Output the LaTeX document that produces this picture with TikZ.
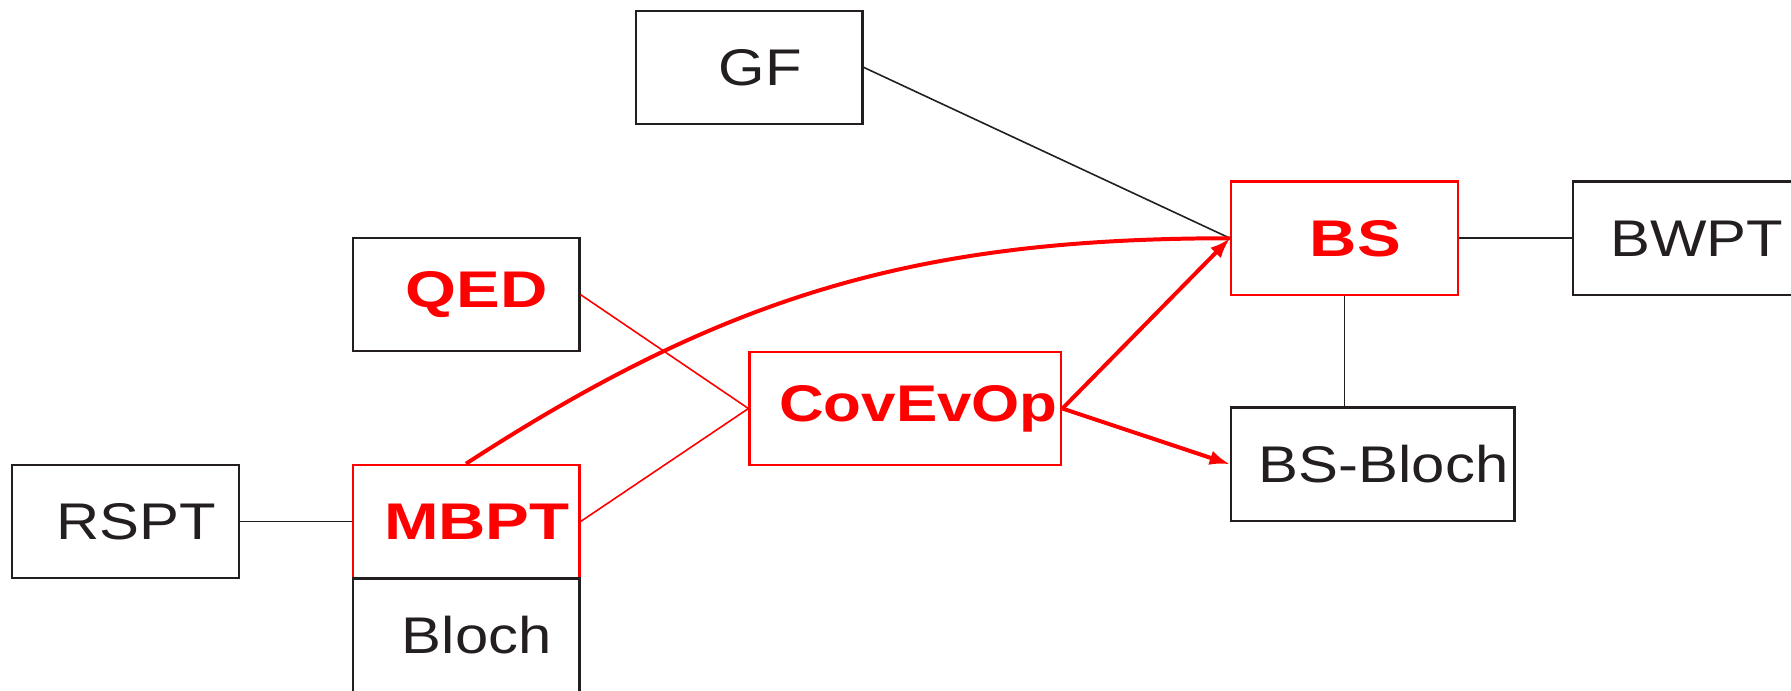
\documentclass[tikz,border=0pt]{standalone}
\usepackage{fontspec}
\newfontfamily\plainlab{Liberation Sans}[FakeStretch=1.16]
\newfontfamily\hotlab{Liberation Sans}[FakeStretch=1.27]
\newfontfamily\widelab{Liberation Sans}[FakeStretch=1.20]
\usetikzlibrary{arrows.meta}
\definecolor{ink}{HTML}{231F20}
\newcommand{\lab}[1]{\hspace*{0.38cm}#1}
\begin{document}
\begin{tikzpicture}[x=1cm,y=1cm,
  box/.style={draw=ink, line width=1.2pt, minimum width=4cm, minimum height=2cm,
    inner sep=0pt, text=ink, font=\fontsize{25.9}{30}\plainlab},
  hotbox/.style={box, draw=red},
  hottext/.style={text=red, font=\fontsize{25.9}{30}\hotlab\bfseries},
  linkink/.style={draw=ink, line width=0.8pt},
  linkred/.style={draw=red, line width=0.8pt},
  flow/.style={draw=red, line width=2pt},
  flowarrow/.style={flow, -{Latex[length=3.6mm,width=2.6mm]}}]
\useasboundingbox (0,0) rectangle (31.61,-12.18);

% nodes
\node[box]    (gf)    at (13.225,-1.19)  {\lab{GF}};
\node[box, hottext] (qed)   at (8.225,-5.20)   {\lab{QED}};
\node[box]    (rspt)  at (2.215,-9.205)  {\lab{RSPT}};
\node[hotbox, hottext] (mbpt)  at (8.225,-9.205)  {\lab{MBPT}};
\node[box]    (bloch) at (8.225,-11.21)  {\lab{Bloch}};
\node[hotbox, hottext, font=\fontsize{25.9}{30}\widelab\bfseries,
      minimum width=5.5cm] (cov) at (15.98,-7.21) {\hspace*{0.46cm}CovEvOp};
\node[hotbox, hottext] (bs)    at (23.73,-4.205)  {\lab{BS}};
\node[box]    (bwpt)  at (29.76,-4.205)  {\lab{BWPT}};
\node[box, minimum width=5cm] (bsb) at (24.23,-8.195) {\lab{BS-Bloch}};

% plain links
\draw[linkink] (gf.east) -- (bs.west);
\draw[linkink] (rspt.east) -- (mbpt.west);
\draw[linkink] (bs.east) -- (bwpt.west);
\draw[linkink] (bs.south) -- (bs.south |- bsb.north);
\draw[linkred] (qed.east) -- (cov.west);
\draw[linkred] (mbpt.east) -- (cov.west);

% main flow
\draw[flow] (mbpt.north) to[out=33,in=180] (bs.west);
\draw[flowarrow] (cov.east) -- (bs.west);
\draw[flowarrow] (cov.east) -- (bsb.west);
\end{tikzpicture}
\end{document}
